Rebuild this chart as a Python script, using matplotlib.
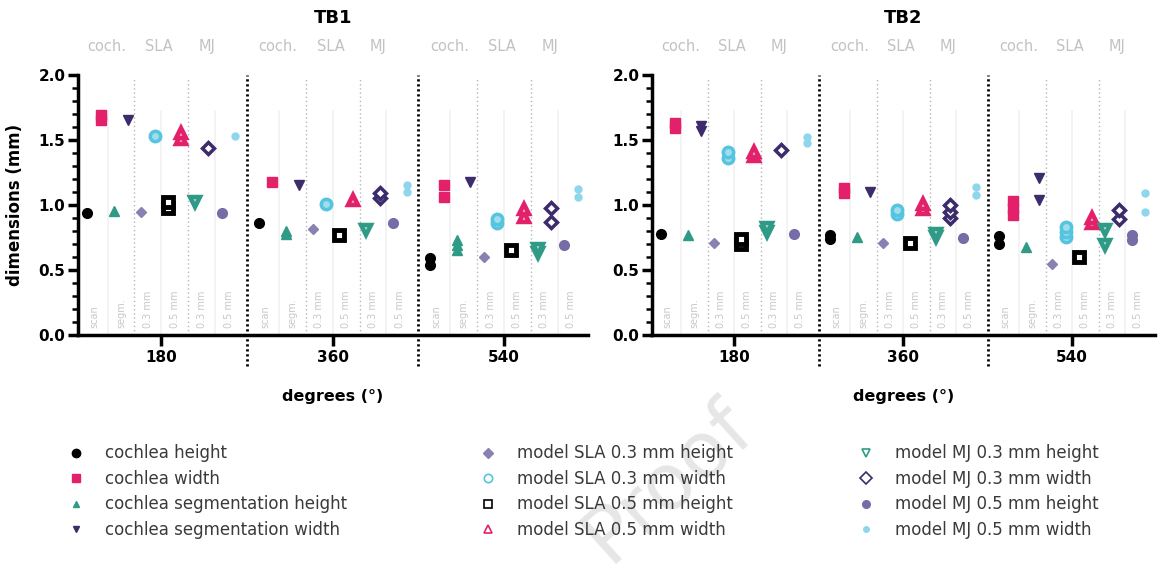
import matplotlib
matplotlib.use("Agg")
import matplotlib.pyplot as plt
from matplotlib.lines import Line2D
from matplotlib.ticker import MultipleLocator

# ---- data (values per degree group: 180, 360, 540) ----
degrees = ["180", "360", "540"]
panels = ["TB1", "TB2"]
col_labels = ["scan", "segm.", "0.3 mm", "0.5 mm", "0.3 mm", "0.5 mm"]
top_labels = ["coch.", "SLA", "MJ"]

series_names = [
    "cochlea height", "cochlea width",
    "cochlea segmentation height", "cochlea segmentation width",
    "model SLA 0.3 mm height", "model SLA 0.3 mm width",
    "model SLA 0.5 mm height", "model SLA 0.5 mm width",
    "model MJ 0.3 mm height", "model MJ 0.3 mm width",
    "model MJ 0.5 mm height", "model MJ 0.5 mm width",
]

tb1_coch_h = [[0.94], [0.865], [0.59, 0.54]]
tb1_coch_w = [[1.65, 1.69], [1.18], [1.15, 1.06]]
tb1_segm_h = [[0.955], [0.78, 0.80], [0.73, 0.69, 0.65]]
tb1_segm_w = [[1.655], [1.15], [1.18]]
tb1_sla3_h = [[0.95], [0.815], [0.60]]
tb1_sla3_w = [[1.53], [1.01], [0.86, 0.89]]
tb1_sla5_h = [[0.98, 1.02], [0.77], [0.65]]
tb1_sla5_w = [[1.51, 1.55], [1.04], [0.91, 0.97]]
tb1_mj3_h = [[1.025], [0.81], [0.63, 0.66]]
tb1_mj3_w = [[1.44], [1.05, 1.09], [0.87, 0.98]]
tb1_mj5_h = [[0.94], [0.86], [0.69]]
tb1_mj5_w = [[1.53], [1.10, 1.15], [1.06, 1.12]]

tb2_coch_h = [[0.78], [0.74, 0.77], [0.70, 0.76]]
tb2_coch_w = [[1.59, 1.63], [1.09, 1.13], [0.92, 0.98, 1.03]]
tb2_segm_h = [[0.77], [0.75], [0.68]]
tb2_segm_w = [[1.57, 1.61], [1.10], [1.04, 1.205]]
tb2_sla3_h = [[0.705], [0.71], [0.55]]
tb2_sla3_w = [[1.36, 1.41], [0.93, 0.96], [0.75, 0.79, 0.83]]
tb2_sla5_h = [[0.70, 0.74], [0.71], [0.60]]
tb2_sla5_w = [[1.38, 1.41], [0.97, 1.01], [0.86, 0.90]]
tb2_mj3_h = [[0.79, 0.82], [0.75, 0.78], [0.69, 0.81]]
tb2_mj3_w = [[1.42], [0.90, 0.95, 1.00], [0.89, 0.96]]
tb2_mj5_h = [[0.775], [0.745], [0.73, 0.77]]
tb2_mj5_w = [[1.475, 1.525], [1.08, 1.14], [0.95, 1.09]]

tb1_data = [tb1_coch_h, tb1_coch_w, tb1_segm_h, tb1_segm_w, tb1_sla3_h, tb1_sla3_w,
            tb1_sla5_h, tb1_sla5_w, tb1_mj3_h, tb1_mj3_w, tb1_mj5_h, tb1_mj5_w]
tb2_data = [tb2_coch_h, tb2_coch_w, tb2_segm_h, tb2_segm_w, tb2_sla3_h, tb2_sla3_w,
            tb2_sla5_h, tb2_sla5_w, tb2_mj3_h, tb2_mj3_w, tb2_mj5_h, tb2_mj5_w]

# ---- styles ----
PINK = "#e3216b"
TEAL = "#2f9a86"
DPURP = "#3d2c6c"
LPURP = "#8a80b2"
LBLUE = "#55c4de"
MPURP = "#776ca6"
SKY = "#8ed6ec"

# (marker, size, face, edge, edge width)
styles = [
    ("o", 7, "black", "black", 1),
    ("s", 7, PINK, PINK, 1),
    ("^", 7, TEAL, TEAL, 1),
    ("v", 7, DPURP, DPURP, 1),
    ("D", 5.5, LPURP, LPURP, 1),
    ("o", 7.5, "#9fdcec", LBLUE, 2.5),
    ("s", 7, "white", "black", 3.5),
    ("^", 7.5, "#f3b6cc", PINK, 3.2),
    ("v", 7.5, "#b5ddd4", TEAL, 3.2),
    ("D", 6, "white", DPURP, 2.5),
    ("o", 7, MPURP, MPURP, 1),
    ("o", 5, SKY, SKY, 1),
]
legend_styles = [
    ("o", 6, "black", "black", 1),
    ("s", 5.5, PINK, PINK, 1),
    ("^", 5, TEAL, TEAL, 1),
    ("v", 5, DPURP, DPURP, 1),
    ("D", 5, LPURP, LPURP, 1),
    ("o", 6, "none", LBLUE, 1.2),
    ("s", 6, "none", "black", 1.2),
    ("^", 6, "none", PINK, 1.2),
    ("v", 6, "none", TEAL, 1.2),
    ("D", 6, "none", DPURP, 1.2),
    ("o", 5.5, MPURP, MPURP, 1),
    ("o", 4, SKY, SKY, 1),
]

gap = 12.75

fig = plt.figure(figsize=(11.6, 5.81), dpi=100)
W, H = 1160, 581
ax1 = fig.add_axes([78 / W, 1 - 335 / H, 510 / W, 260 / H])
ax2 = fig.add_axes([652 / W, 1 - 335 / H, 503 / W, 260 / H])

for ax, name, data in [(ax1, "TB1", tb1_data), (ax2, "TB2", tb2_data)]:
    ax.set_xlim(-0.7, 37.25)
    ax.set_ylim(0, 2.0)
    for sp in ["top", "right"]:
        ax.spines[sp].set_visible(False)
    for sp in ["left", "bottom"]:
        ax.spines[sp].set_linewidth(2.5)

    # background guides
    for g in range(3):
        base = g * gap
        for c in [1.5, 5.5, 9.5]:
            ax.plot([base + c, base + c], [0, 1.72], color="#f1f1f1", lw=1.2, zorder=0)
        for c in [3.5, 7.5]:
            ax.plot([base + c, base + c], [0, 1.98], color="#b5b5b5", lw=1,
                    ls=(0, (1, 2)), zorder=1)
        for k, lab in enumerate(col_labels):
            ax.text(base + 0.5 + 2 * k, 0.05, lab, rotation=90, ha="center", va="bottom",
                    fontsize=7, color="#c8c8c8")
        for c, lab in zip([1.45, 5.35, 8.9], top_labels):
            ax.text(base + c, 2.22, lab, ha="center", va="center", fontsize=10.5,
                    color="#c2c2c2", clip_on=False)
    for g in [1, 2]:
        sep = g * gap - 0.875
        ax.plot([sep, sep], [-0.24, 2.0], color="black", lw=2, ls=(0, (0.8, 1.0)),
                clip_on=False, zorder=2)

    # data points
    for i, series in enumerate(data):
        m, ms, fc, ec, mew = styles[i]
        for g, vals in enumerate(series):
            ax.plot([g * gap + i] * len(vals), vals, ls="none", marker=m, ms=ms,
                    mfc=fc, mec=ec, mew=mew, zorder=3, clip_on=False)

    ax.set_xticks([g * gap + 5.5 for g in range(3)])
    ax.set_xticklabels(degrees, fontweight="bold", fontsize=11)
    ax.tick_params(axis="x", length=8, width=2.5, pad=3)
    ax.yaxis.set_major_locator(MultipleLocator(0.5))
    ax.yaxis.set_minor_locator(MultipleLocator(0.1))
    ax.tick_params(axis="y", which="major", length=7, width=2.5, pad=2)
    ax.tick_params(axis="y", which="minor", length=4, width=1.8)
    ax.set_yticks([0, 0.5, 1.0, 1.5, 2.0])
    ax.set_yticklabels(["0.0", "0.5", "1.0", "1.5", "2.0"], fontweight="bold", fontsize=11)

    ax.set_xlabel("degrees (°)", fontweight="bold", fontsize=11.5)
    ax.xaxis.set_label_coords(0.5, -(396 - 335) / 260)
    ax.xaxis.label.set_va("center")

    pos = ax.get_position()
    fig.text(pos.x0 + pos.width / 2, 1 - 18 / H, name, ha="center", va="center",
             fontweight="bold", fontsize=13)

ax1.set_ylabel("dimensions (mm)", fontweight="bold", fontsize=12)
ax1.yaxis.set_label_coords(-(78 - 15) / 510, 0.5)
ax1.yaxis.label.set_va("center")

# ---- legend: three columns of four ----
handles = [Line2D([], [], ls="none", marker=m, ms=ms, mfc=fc, mec=ec, mew=mew)
           for (m, ms, fc, ec, mew) in legend_styles]
col_x = [58, 470, 848]
for c in range(3):
    leg = fig.legend(handles[4 * c:4 * c + 4], series_names[4 * c:4 * c + 4],
                     loc="upper left", bbox_to_anchor=(col_x[c] / W, 1 - 436 / H),
                     frameon=False, fontsize=12, handlelength=1.2, handletextpad=1.1,
                     labelspacing=0.45, borderpad=0, labelcolor="#3a3a3a")

# faint "Proof" watermark over the legend
fig.text(668 / W, 1 - 482 / H, "Proof", rotation=42, ha="center", va="center",
         fontsize=56, color="#e2e2e2", alpha=0.85)

fig.savefig("out.png", dpi=100)
